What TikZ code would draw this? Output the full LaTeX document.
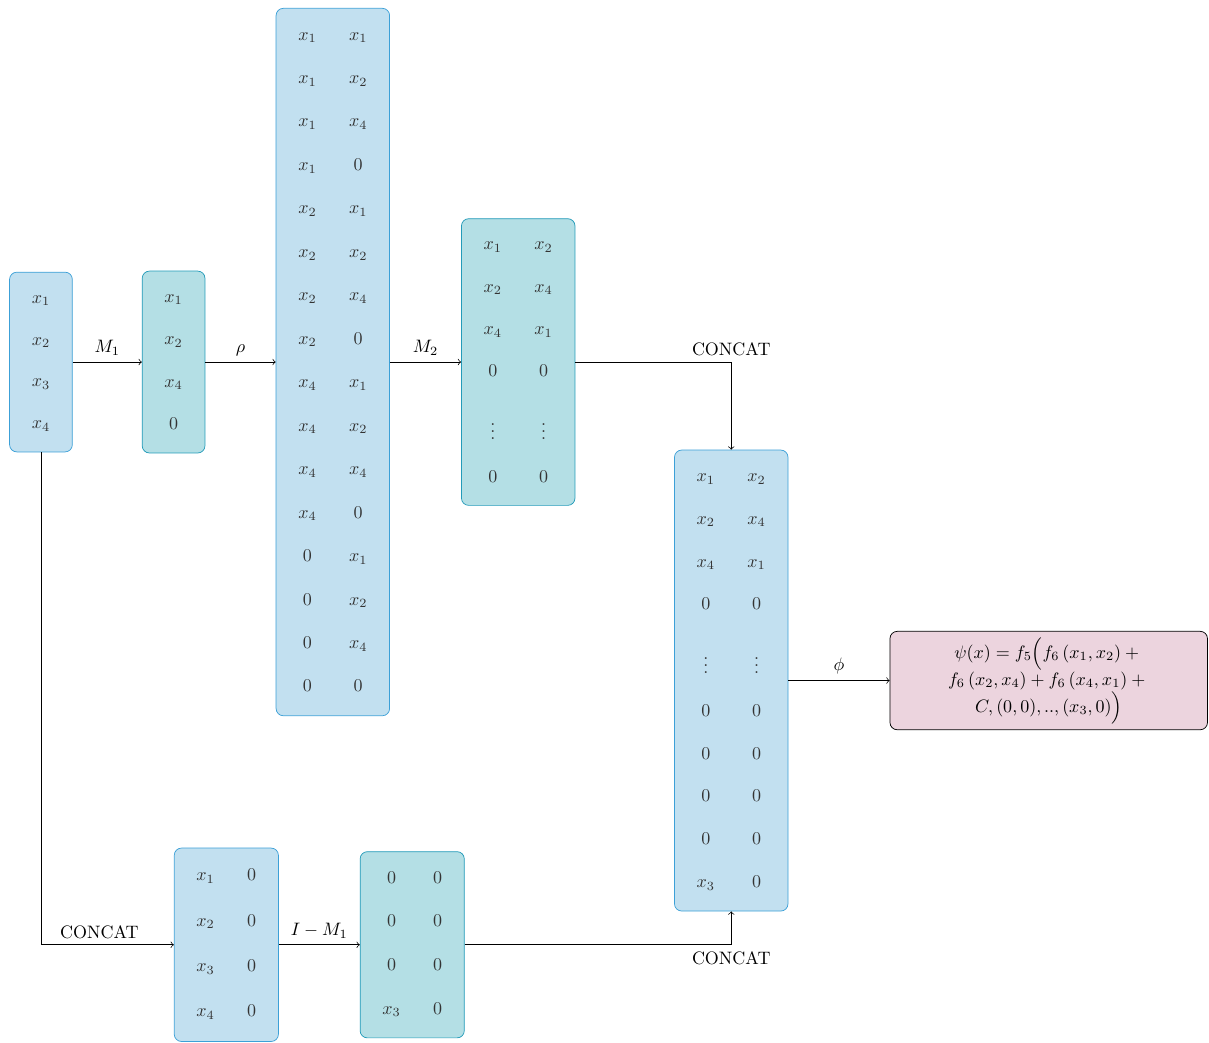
\documentclass[tikz,border=0pt]{standalone}
\usepackage{amsmath}
\usepackage{array}
\usepackage{tikz}
\usetikzlibrary{positioning}
\definecolor{VecBlue}{RGB}{194,224,240}
\definecolor{VecBlueLine}{RGB}{60,160,215}
\definecolor{VecTeal}{RGB}{180,223,229}
\definecolor{VecTealLine}{RGB}{35,155,185}
\definecolor{OutPink}{RGB}{236,212,222}
\setlength{\arraycolsep}{9pt}
% rows of equal pitch, centred on the entries
\newlength{\rowpitch}
\newcommand{\rowstrut}{\rule[\dimexpr-0.5\rowpitch+2.2pt\relax]{0pt}{\rowpitch}}
\newcommand{\vcol}[2][23.4pt]{\setlength{\rowpitch}{#1}%
  $\renewcommand{\arraystretch}{0.5}\begin{array}{>{\rowstrut}c}#2\end{array}$}
\newcommand{\vmat}[2][23.4pt]{\setlength{\rowpitch}{#1}%
  $\renewcommand{\arraystretch}{0.5}\begin{array}{>{\rowstrut}cc}#2\end{array}$}
\newcommand{\dotsgap}{\noalign{\vskip 10.5pt}}

\begin{document}
\begin{tikzpicture}[
    vecbox/.style={draw=VecBlueLine,fill=VecBlue,rounded corners=4pt,text=black!80},
    maskbox/.style={vecbox,draw=VecTealLine,fill=VecTeal},
    outbox/.style={draw=black,fill=OutPink,rounded corners=4pt,align=center,minimum width=6.2cm},
    flow/.style={->}
  ]
  \useasboundingbox (0,0) rectangle (23.61,-20.35);

  % top row
  \node[vecbox] (input) at (0.80,-7.07) {\vcol[23.3pt]{x_1\\x_2\\x_3\\x_4}};
  \node[maskbox] (masked) at (3.39,-7.07) {\vcol[23.6pt]{x_1\\x_2\\x_4\\0}};
  \node[vecbox] (pairs) at (6.50,-7.07) {\vmat[24.15pt]{
      x_1&x_1\\x_1&x_2\\x_1&x_4\\x_1&0\\
      x_2&x_1\\x_2&x_2\\x_2&x_4\\x_2&0\\
      x_4&x_1\\x_4&x_2\\x_4&x_4\\x_4&0\\
      0&x_1\\0&x_2\\0&x_4\\0&0}};
  \node[maskbox] (kept) at (10.12,-7.07) {\vmat[23.5pt]{
      x_1&x_2\\x_2&x_4\\x_4&x_1\\0&0\\ \dotsgap
      \vdots&\vdots\\0&0}};

  % merged pairs and output
  \node[vecbox] (merged) at (14.28,-13.29) {\vmat[23.8pt]{
      x_1&x_2\\x_2&x_4\\x_4&x_1\\0&0\\ \dotsgap
      \vdots&\vdots\\0&0\\0&0\\0&0\\0&0\\x_3&0}};
  \node[outbox] (psi) at (20.48,-13.29) {%
    $\psi(x) = f_5\Big(f_6\left(x_1,x_2\right) +{}$\\
    $f_6\left(x_2,x_4\right) + f_6\left(x_4,x_1\right) +{}$\\
    $C,(0,0),..,(x_3,0)\Big)$};

  % bottom row
  \node[vecbox] (padded) at (4.42,-18.45) {\vmat[25.2pt]{x_1&0\\x_2&0\\x_3&0\\x_4&0}};
  \node[maskbox] (rest) at (8.05,-18.45) {\vmat[24.2pt]{0&0\\0&0\\0&0\\x_3&0}};

  % connectors
  \draw[flow] (input) -- node[above] {$M_1$} (masked);
  \draw[flow] (masked) -- node[above] {$\rho$} (pairs);
  \draw[flow] (pairs) -- node[above] {$M_2$} (kept);
  \draw[flow] (kept.east) -| node[pos=0.5,above] {CONCAT} (merged.north);
  \draw[flow] (input.south) |- node[pos=0.72,above] {CONCAT} (padded.west);
  \draw[flow] (padded) -- node[above] {$I-M_1$} (rest);
  \draw[flow] (rest.east) -| node[pos=0.5,below] {CONCAT} (merged.south);
  \draw[flow] (merged) -- node[above] {$\phi$} (psi);
\end{tikzpicture}
\end{document}
